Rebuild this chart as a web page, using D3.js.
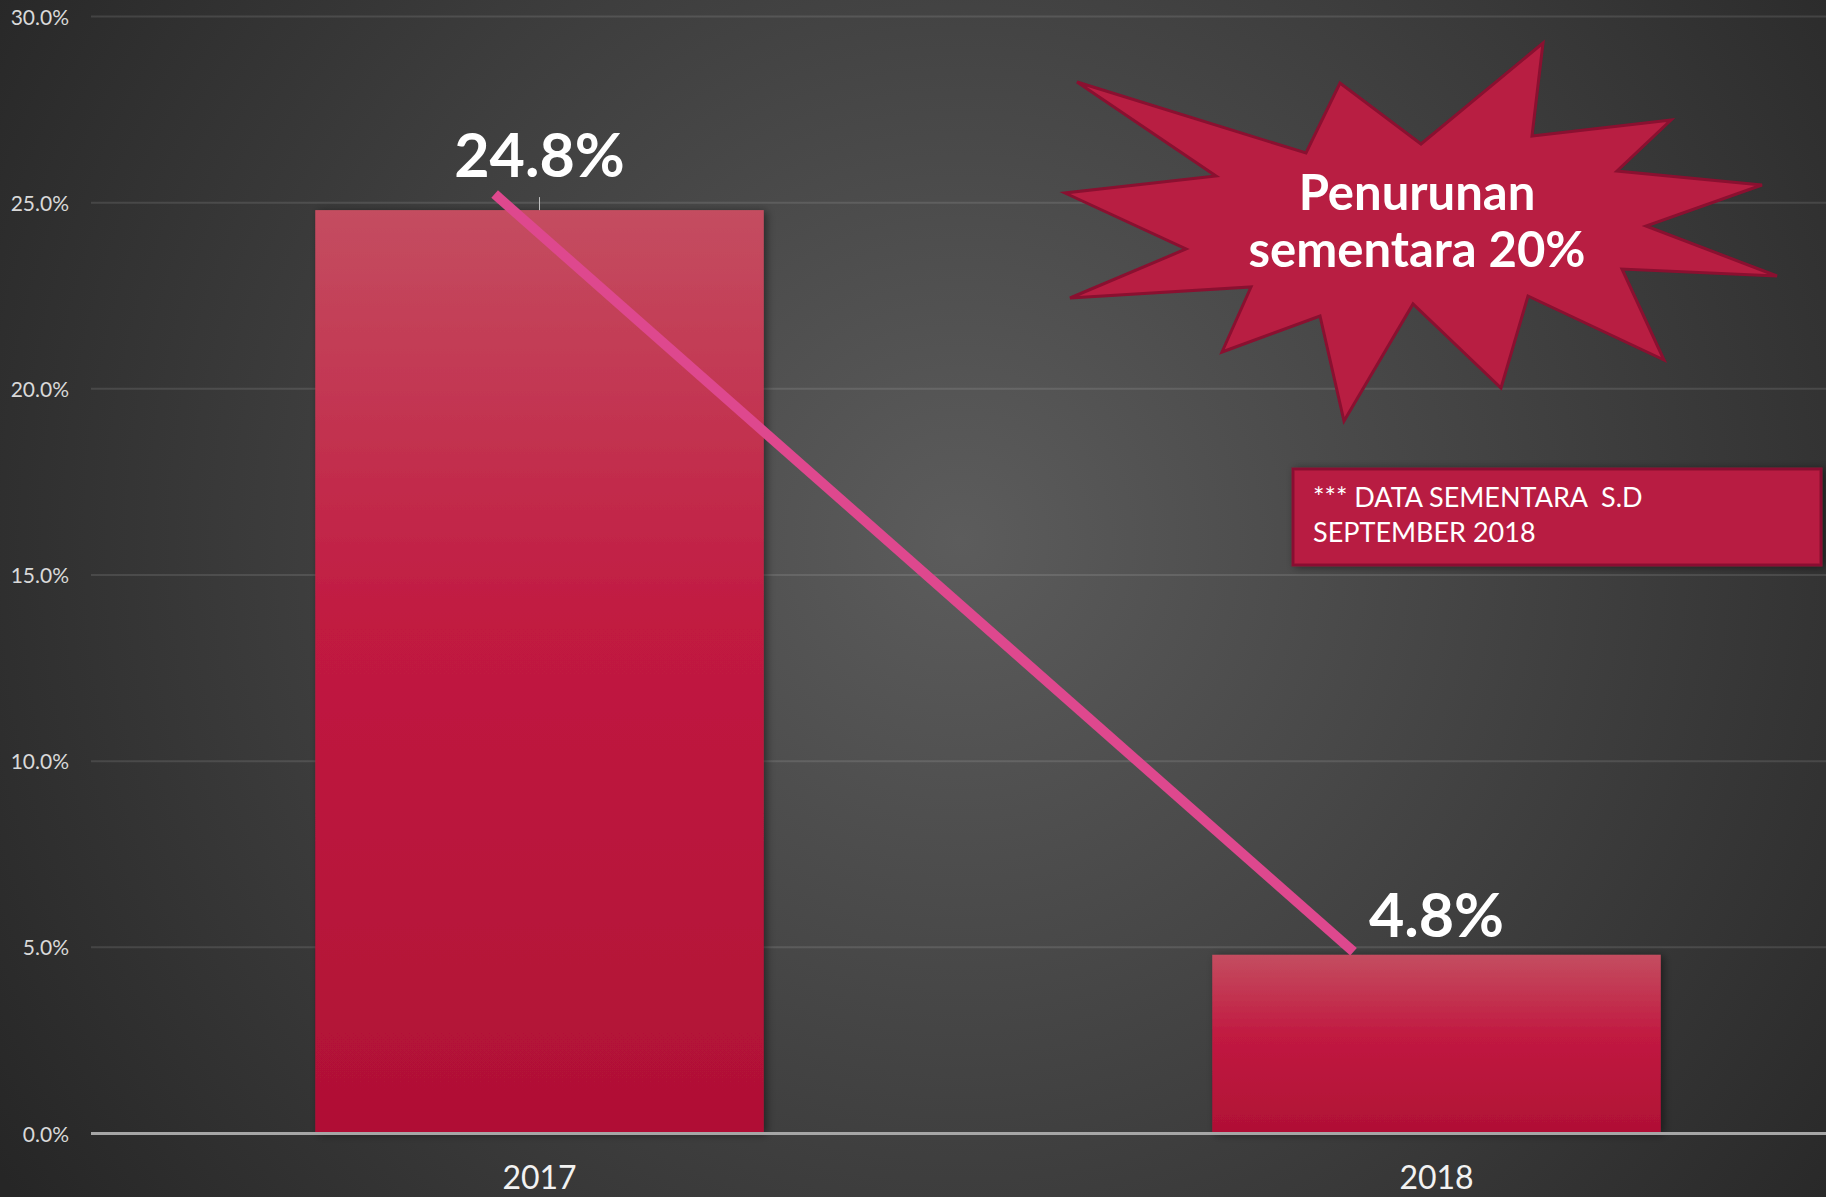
<!DOCTYPE html>
<html>
<head>
<meta charset="utf-8">
<script src="https://cdn.jsdelivr.net/npm/d3@7"></script>
<style>
  html, body { margin: 0; padding: 0; background: #2b2b2b; overflow: hidden; }
  svg { display: block; }
</style>
</head>
<body>
<div class="chart-container"></div>
<script>
// chart data
const years = ["2017", "2018"]
const values = [0.248, 0.048]
const valueLabels = ["24.8%", "4.8%"]
const yTicks = [0, 0.05, 0.10, 0.15, 0.20, 0.25, 0.30]
const starText = ["Penurunan", "sementara 20%"]
const noteText = ["*** DATA SEMENTARA  S.D", "SEPTEMBER 2018"]

// starburst outline (annotation shape, not data)
const starPoints = [
  [1077, 82], [1306, 153], [1340, 83], [1421, 144], [1543, 43], [1532, 136],
  [1671, 120], [1617, 171], [1762, 185], [1646, 226], [1777, 276], [1622, 269],
  [1664, 360], [1528, 296], [1501, 388], [1413, 304], [1344, 421], [1320, 316],
  [1222, 352], [1251, 287], [1070, 298], [1186, 249], [1065, 193], [1216, 176]
]

const W = 1826, H = 1197
const margin = {left: 91, top: 16.5, bottom: 63.5}

const svg = d3.select(".chart-container").append("svg")
  .attr("width", W)
  .attr("height", H)
  .style("font-family", "Lato, 'Open Sans', sans-serif")

const defs = svg.append("defs")

// dark radial background like the slide
const bg = defs.append("radialGradient")
  .attr("id", "bg")
  .attr("gradientUnits", "userSpaceOnUse")
  .attr("cx", 960).attr("cy", 540).attr("r", 1150)
bg.append("stop").attr("offset", 0).attr("stop-color", "#5c5c5c")
bg.append("stop").attr("offset", 1).attr("stop-color", "#262626")

// each bar fades from a pale rose at the top to deep crimson
const barGrad = defs.append("linearGradient")
  .attr("id", "barGrad")
  .attr("x1", 0).attr("y1", 0).attr("x2", 0).attr("y2", 1)
barGrad.append("stop").attr("offset", 0).attr("stop-color", "#c44d60")
barGrad.append("stop").attr("offset", 0.45).attr("stop-color", "#c11a41")
barGrad.append("stop").attr("offset", 1).attr("stop-color", "#b01035")

const shadow = defs.append("filter").attr("id", "shadow")
  .attr("x", "-10%").attr("y", "-10%").attr("width", "130%").attr("height", "130%")
shadow.append("feDropShadow")
  .attr("dx", 3).attr("dy", 1).attr("stdDeviation", 4)
  .attr("flood-color", "#000").attr("flood-opacity", 0.45)

svg.append("rect")
  .attr("width", W).attr("height", H)
  .attr("fill", "url(#bg)")

// scales - the plot runs past the right edge of the slide
const x = d3.scaleBand()
  .domain(years)
  .range([margin.left, 1885])
  .paddingInner(0.5)
  .paddingOuter(0.25)

const y = d3.scaleLinear()
  .domain([0, 0.30])
  .range([H - margin.bottom, margin.top])

// gridlines
svg.append("g")
  .selectAll("line")
  .data(yTicks.filter(d => d > 0))
  .join("line")
  .attr("x1", margin.left).attr("x2", W)
  .attr("y1", d => y(d)).attr("y2", d => y(d))
  .attr("stroke", "rgba(255,255,255,0.11)")
  .attr("stroke-width", 2)

// y axis labels
const yAxis = g => g
  .attr("transform", `translate(${margin.left - 22},0)`)
  .call(d3.axisLeft(y).tickValues(yTicks).tickFormat(d3.format(".1%")).tickSize(0).tickPadding(0))
  .call(g => g.select(".domain").remove())
  .call(g => g.selectAll("text")
    .attr("fill", "#d9d9d9")
    .attr("font-size", 21)
    .attr("font-family", "Lato, sans-serif")
    .attr("dy", "0.36em"))
svg.append("g").call(yAxis)

// bars
svg.append("g")
  .selectAll("rect")
  .data(values)
  .join("rect")
  .attr("x", (d, i) => x(years[i]))
  .attr("y", d => y(d))
  .attr("width", x.bandwidth())
  .attr("height", d => y(0) - y(d))
  .attr("fill", "url(#barGrad)")
  .attr("filter", "url(#shadow)")

// baseline
svg.append("line")
  .attr("x1", margin.left).attr("x2", W)
  .attr("y1", y(0)).attr("y2", y(0))
  .attr("stroke", "#a6a6a6")
  .attr("stroke-width", 3)

// x axis labels
svg.append("g")
  .selectAll("text")
  .data(years)
  .join("text")
  .attr("x", d => x(d) + x.bandwidth() / 2)
  .attr("y", 1189)
  .attr("text-anchor", "middle")
  .attr("fill", "#f2f2f2")
  .attr("font-size", 32)
  .text(d => d)

// value labels (the first one sits higher with a small leader line)
const labelGap = [33, 18]
svg.append("line")
  .attr("x1", x(years[0]) + x.bandwidth() / 2)
  .attr("x2", x(years[0]) + x.bandwidth() / 2)
  .attr("y1", y(values[0]) - 13)
  .attr("y2", y(values[0]))
  .attr("stroke", "#bfbfbf")
  .attr("stroke-width", 1)

svg.append("g")
  .selectAll("text")
  .data(values)
  .join("text")
  .attr("x", (d, i) => x(years[i]) + x.bandwidth() / 2)
  .attr("y", (d, i) => y(d) - labelGap[i])
  .attr("text-anchor", "middle")
  .attr("fill", "#ffffff")
  .attr("font-size", 61)
  .attr("font-weight", "bold")
  .text((d, i) => valueLabels[i])

// pink trend line drawn across the bars
svg.append("line")
  .attr("x1", x(years[0]) + x.bandwidth() * 0.4)
  .attr("y1", y(values[0]) - 16)
  .attr("x2", x(years[1]) + x.bandwidth() * 0.315)
  .attr("y2", y(values[1]) - 3)
  .attr("stroke", "#de488e")
  .attr("stroke-width", 10)

// starburst callout
svg.append("polygon")
  .attr("points", starPoints.map(p => p.join(",")).join(" "))
  .attr("fill", "#b81e42")
  .attr("stroke", "#8a1030")
  .attr("stroke-width", 3)
  .attr("stroke-linejoin", "miter")

svg.append("g")
  .selectAll("text")
  .data(starText)
  .join("text")
  .attr("x", 1417)
  .attr("y", (d, i) => 210 + i * 57)
  .attr("text-anchor", "middle")
  .attr("fill", "#ffffff")
  .attr("font-size", 49)
  .attr("font-weight", "bold")
  .text(d => d)

// note box
svg.append("rect")
  .attr("x", 1293).attr("y", 469)
  .attr("width", 528).attr("height", 96)
  .attr("fill", "#b81e42")
  .attr("stroke", "#8a1030")
  .attr("stroke-width", 3)
  .attr("filter", "url(#shadow)")

svg.append("g")
  .selectAll("text")
  .data(noteText)
  .join("text")
  .attr("x", 1313)
  .attr("y", (d, i) => 507 + i * 35)
  .attr("fill", "#ffffff")
  .attr("font-size", 27)
  .style("white-space", "pre")
  .text(d => d)
</script>
</body>
</html>
